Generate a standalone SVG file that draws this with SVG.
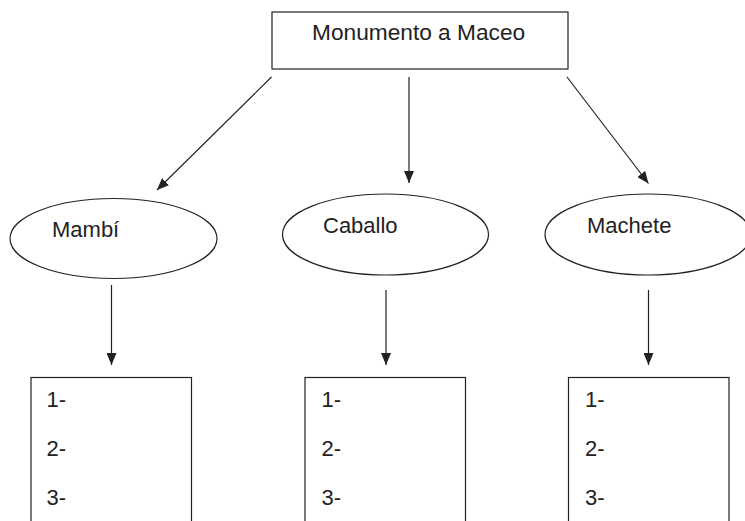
<svg xmlns="http://www.w3.org/2000/svg" width="745" height="521" viewBox="0 0 745 521">
<style>
.box{fill:#fff;stroke:#222;stroke-width:1.2}
.lbl{font-family:"Liberation Sans",Arial,sans-serif;font-size:22px;fill:#222}
.num{font-family:"Liberation Sans",Arial,sans-serif;font-size:22px;fill:#222}
.con{stroke:#222;stroke-width:1.2;fill:none;marker-end:url(#ah)}
</style>
<defs>
<marker id="ah" markerUnits="userSpaceOnUse" viewBox="0 0 12 10" refX="12" refY="5" markerWidth="12" markerHeight="10" orient="auto">
<path d="M0,0 L12,5 L0,10 Z" fill="#222"/>
</marker>
</defs>
<rect width="745" height="521" fill="#fff"/>
<g id="connectors">
<line class="con" x1="271.5" y1="77" x2="157" y2="190"/>
<line class="con" x1="409" y1="77" x2="409" y2="183"/>
<line class="con" x1="567" y1="77" x2="648.5" y2="183.5"/>
<line class="con" x1="111.5" y1="285" x2="111.5" y2="365"/>
<line class="con" x1="386" y1="290" x2="386" y2="365"/>
<line class="con" x1="648.5" y1="290" x2="648.5" y2="365"/>
</g>
<g id="monumento">
<rect class="box" x="272" y="12" width="296" height="57"/>
<text class="lbl" x="312" y="40" style="font-size:22.7px">Monumento a Maceo</text>
</g>
<g id="mambi">
<ellipse class="box" cx="113.5" cy="238.5" rx="103.5" ry="40"/>
<text class="lbl" x="52" y="237">Mambí</text>
</g>
<g id="caballo">
<ellipse class="box" cx="385.5" cy="234.5" rx="103" ry="40.5"/>
<text class="lbl" x="323" y="232.5">Caballo</text>
</g>
<g id="machete">
<ellipse class="box" cx="648" cy="234.5" rx="103" ry="40.5"/>
<text class="lbl" x="587" y="232.5">Machete</text>
</g>
<g id="list1">
<rect class="box" x="31" y="377.5" width="160.5" height="160"/>
<text class="num" x="46.5" y="406.5">1-</text>
<text class="num" x="46.5" y="455.5">2-</text>
<text class="num" x="46.5" y="504.5">3-</text>
</g>
<g id="list2">
<rect class="box" x="305" y="377.5" width="160.5" height="160"/>
<text class="num" x="321.5" y="406.5">1-</text>
<text class="num" x="321.5" y="455.5">2-</text>
<text class="num" x="321.5" y="504.5">3-</text>
</g>
<g id="list3">
<rect class="box" x="568.5" y="377.5" width="160.5" height="160"/>
<text class="num" x="585" y="406.5">1-</text>
<text class="num" x="585" y="455.5">2-</text>
<text class="num" x="585" y="504.5">3-</text>
</g>
</svg>
